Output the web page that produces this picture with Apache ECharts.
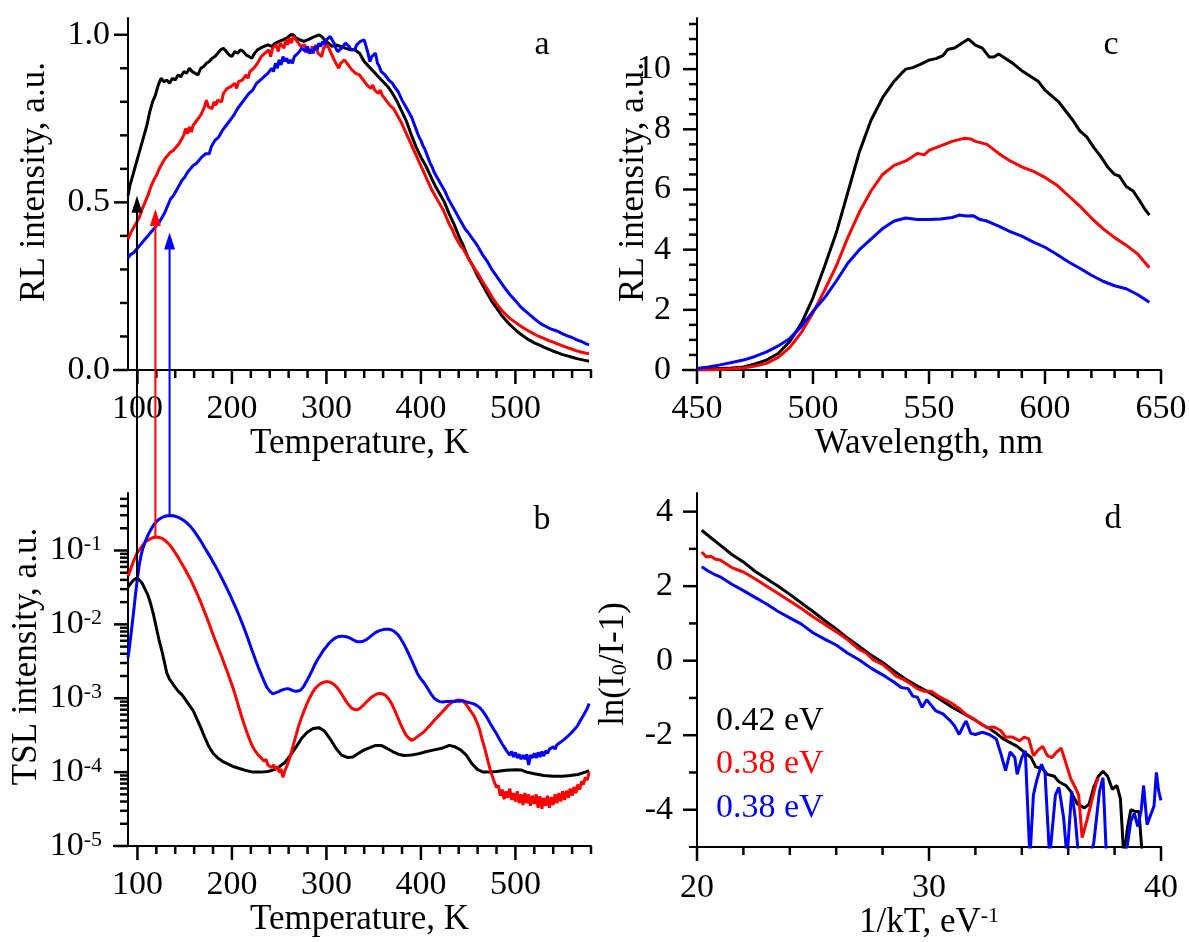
<!DOCTYPE html>
<html><head><meta charset="utf-8">
<script src="https://cdn.jsdelivr.net/npm/echarts@6/dist/echarts.min.js"></script>
<style>html,body{margin:0;padding:0;background:#fff}#c{width:1189px;height:942px}</style>
</head><body><div id="c"></div>
<script>
const FONT = '"Liberation Serif", "Times New Roman", serif';

// ---------- Panel a: RL intensity vs temperature ----------
const rlBlack = [[90,0.52],[92,0.55],[95,0.58],[98,0.61],[101,0.64],[104,0.67],[107,0.70],[110,0.73],[113,0.77],[116,0.80],[119,0.82],[122,0.85],[125,0.87],[128,0.86],[131,0.865],[134,0.855],[137,0.87],[140,0.865],[143,0.88],[146,0.875],[149,0.89],[152,0.885],[155,0.90],[158,0.89],[161,0.885],[164,0.88],[167,0.90],[170,0.905],[173,0.915],[176,0.92],[179,0.93],[182,0.935],[185,0.945],[188,0.955],[191,0.96],[194,0.95],[197,0.94],[200,0.935],[203,0.95],[206,0.945],[209,0.955],[212,0.95],[215,0.94],[218,0.935],[221,0.93],[224,0.945],[227,0.955],[230,0.96],[234,0.965],[238,0.97],[242,0.965],[246,0.975],[250,0.98],[254,0.985],[258,0.99],[262,1.0],[265,1.0],[268,0.99],[272,0.985],[276,0.98],[280,0.985],[284,0.99],[288,0.995],[292,1.0],[295,0.995],[298,0.985],[302,0.975],[306,0.965],[310,0.97],[315,0.965],[320,0.96],[325,0.955],[330,0.955],[335,0.945],[340,0.92],[345,0.905],[350,0.89],[355,0.875],[360,0.86],[365,0.845],[370,0.825],[375,0.80],[380,0.77],[385,0.74],[390,0.70],[395,0.665],[400,0.635],[405,0.61],[410,0.58],[415,0.55],[420,0.525],[425,0.50],[430,0.465],[435,0.435],[440,0.40],[445,0.37],[450,0.335],[455,0.31],[460,0.28],[465,0.255],[470,0.23],[475,0.205],[480,0.185],[485,0.165],[490,0.148],[495,0.133],[500,0.12],[505,0.108],[510,0.098],[515,0.089],[520,0.081],[525,0.075],[530,0.068],[535,0.062],[540,0.056],[545,0.051],[550,0.046],[555,0.042],[560,0.038],[565,0.034],[570,0.031],[575,0.028],[578,0.026]];
const rlRed = [[90,0.39],[93,0.41],[96,0.425],[99,0.44],[102,0.455],[105,0.48],[108,0.50],[111,0.52],[114,0.545],[117,0.565],[120,0.58],[123,0.60],[126,0.615],[129,0.63],[132,0.64],[135,0.65],[138,0.655],[141,0.665],[144,0.675],[147,0.69],[149,0.70],[151,0.72],[153,0.705],[155,0.725],[157,0.71],[159,0.73],[161,0.725],[163,0.745],[165,0.74],[167,0.76],[169,0.765],[171,0.785],[173,0.805],[175,0.785],[177,0.79],[179,0.78],[181,0.80],[183,0.79],[185,0.805],[187,0.81],[189,0.80],[191,0.825],[193,0.82],[195,0.84],[197,0.835],[199,0.845],[201,0.84],[203,0.855],[205,0.84],[207,0.86],[209,0.855],[211,0.865],[213,0.865],[215,0.88],[217,0.87],[219,0.89],[221,0.885],[223,0.9],[225,0.895],[227,0.915],[229,0.915],[231,0.935],[233,0.935],[235,0.945],[237,0.94],[239,0.955],[241,0.935],[243,0.96],[245,0.955],[247,0.97],[249,0.95],[251,0.975],[253,0.97],[255,0.96],[257,0.985],[259,0.97],[261,0.99],[263,0.975],[265,0.995],[267,1.0],[269,0.98],[271,0.975],[273,0.965],[275,0.96],[277,0.97],[279,0.95],[281,0.955],[283,0.945],[285,0.965],[287,0.955],[289,0.97],[291,0.945],[293,0.95],[295,0.935],[297,0.96],[299,0.955],[301,0.97],[303,0.965],[305,0.945],[307,0.94],[309,0.92],[311,0.92],[313,0.9],[315,0.915],[317,0.91],[319,0.925],[321,0.92],[323,0.91],[325,0.91],[327,0.895],[329,0.9],[331,0.885],[333,0.89],[335,0.88],[337,0.88],[339,0.865],[341,0.865],[343,0.85],[345,0.855],[347,0.84],[349,0.85],[351,0.835],[353,0.84],[355,0.825],[357,0.835],[359,0.82],[361,0.82],[363,0.805],[365,0.805],[367,0.79],[369,0.795],[371,0.78],[373,0.78],[375,0.76],[377,0.76],[379,0.74],[381,0.74],[383,0.715],[385,0.715],[387,0.69],[389,0.69],[391,0.665],[393,0.665],[395,0.64],[397,0.64],[399,0.615],[401,0.615],[403,0.59],[405,0.585],[407,0.565],[409,0.56],[411,0.54],[413,0.535],[415,0.52],[417,0.52],[419,0.5],[421,0.5],[424,0.475],[427,0.455],[430,0.435],[433,0.42],[436,0.40],[439,0.385],[442,0.37],[445,0.36],[450,0.335],[455,0.31],[460,0.289],[465,0.265],[470,0.242],[476,0.214],[480,0.198],[485,0.18],[490,0.165],[495,0.152],[500,0.142],[505,0.132],[510,0.123],[515,0.115],[520,0.107],[525,0.10],[530,0.094],[535,0.088],[540,0.083],[545,0.077],[550,0.072],[555,0.067],[560,0.062],[565,0.057],[570,0.053],[575,0.05],[578,0.048]];
const rlBlue = [[90,0.335],[93,0.345],[96,0.35],[99,0.36],[102,0.37],[105,0.38],[108,0.39],[111,0.40],[114,0.41],[117,0.42],[120,0.43],[123,0.44],[126,0.455],[129,0.47],[132,0.49],[135,0.51],[138,0.52],[141,0.535],[144,0.55],[147,0.565],[150,0.575],[153,0.59],[156,0.60],[159,0.61],[162,0.615],[165,0.625],[168,0.635],[170,0.63],[172,0.645],[174,0.65],[176,0.645],[178,0.665],[180,0.67],[182,0.685],[184,0.68],[186,0.695],[188,0.7],[190,0.715],[192,0.71],[194,0.73],[196,0.73],[198,0.745],[200,0.745],[202,0.76],[204,0.76],[206,0.78],[208,0.775],[210,0.795],[212,0.79],[214,0.81],[216,0.805],[218,0.825],[220,0.82],[222,0.835],[224,0.835],[226,0.855],[228,0.85],[230,0.865],[232,0.86],[234,0.875],[236,0.87],[238,0.885],[240,0.88],[242,0.9],[244,0.89],[246,0.915],[248,0.9],[250,0.925],[252,0.91],[254,0.935],[256,0.92],[258,0.93],[260,0.915],[262,0.925],[264,0.915],[266,0.935],[268,0.93],[270,0.945],[272,0.94],[274,0.96],[276,0.965],[278,0.95],[280,0.965],[282,0.945],[284,0.955],[286,0.945],[288,0.965],[290,0.955],[292,0.975],[294,0.965],[296,0.98],[298,0.97],[300,0.985],[302,0.98],[304,0.995],[306,1.0],[308,0.975],[310,0.96],[312,0.95],[314,0.945],[316,0.96],[318,0.965],[320,0.975],[322,0.97],[324,0.965],[326,0.955],[328,0.96],[330,0.955],[332,0.97],[334,0.965],[336,0.98],[338,0.975],[340,0.985],[342,0.965],[344,0.945],[346,0.92],[348,0.935],[350,0.93],[352,0.945],[354,0.915],[356,0.905],[358,0.89],[360,0.885],[362,0.88],[364,0.875],[366,0.865],[368,0.86],[370,0.855],[372,0.845],[374,0.84],[376,0.83],[378,0.825],[380,0.805],[382,0.80],[384,0.785],[386,0.785],[388,0.765],[390,0.755],[392,0.74],[394,0.725],[396,0.71],[398,0.695],[400,0.685],[402,0.67],[404,0.66],[406,0.645],[408,0.63],[410,0.615],[412,0.605],[414,0.59],[417,0.575],[420,0.56],[423,0.545],[426,0.53],[429,0.51],[432,0.495],[435,0.48],[438,0.465],[441,0.45],[444,0.435],[447,0.42],[450,0.41],[455,0.39],[460,0.37],[465,0.345],[470,0.325],[475,0.30],[480,0.28],[485,0.26],[490,0.24],[495,0.222],[500,0.207],[505,0.19],[510,0.177],[515,0.165],[520,0.153],[525,0.142],[530,0.133],[535,0.126],[540,0.12],[545,0.115],[550,0.108],[555,0.102],[560,0.097],[565,0.09],[570,0.085],[575,0.078],[578,0.075]];

// ---------- Panel b: TSL intensity vs temperature (log) ----------
const tslBlack = [[90,0.032],[93,0.036],[96,0.04],[99,0.042],[102,0.04],[105,0.036],[108,0.03],[111,0.025],[114,0.019],[117,0.0135],[120,0.009],[123,0.006],[126,0.0043],[129,0.0029],[131,0.0022],[134,0.0018],[137,0.0016],[140,0.0014],[143,0.00125],[147,0.00112],[151,0.00095],[155,0.0008],[159,0.00068],[163,0.00052],[167,0.0004],[171,0.0003],[175,0.00023],[180,0.00018],[185,0.000155],[190,0.00014],[196,0.000128],[202,0.000118],[208,0.000112],[215,0.000105],[222,0.0001],[230,0.0001],[238,0.000102],[245,0.000108],[250,0.000118],[256,0.000135],[262,0.00017],[268,0.00022],[274,0.00029],[280,0.00035],[286,0.00039],[292,0.0004],[298,0.00036],[304,0.00028],[310,0.00021],[316,0.00017],[322,0.000158],[328,0.00016],[334,0.00018],[340,0.0002],[346,0.000215],[352,0.00023],[358,0.00023],[364,0.00021],[370,0.00019],[376,0.000175],[382,0.000168],[390,0.00017],[398,0.000178],[406,0.00019],[414,0.0002],[422,0.00021],[430,0.00023],[436,0.00022],[442,0.0002],[448,0.00017],[454,0.00013],[460,0.000108],[466,0.0001],[472,0.0001],[480,0.000102],[490,0.000106],[500,0.000108],[506,0.000107],[512,0.0001],[520,0.000095],[530,0.00009],[540,0.000088],[550,0.000088],[558,0.00009],[566,0.000093],[574,0.0001],[578,0.000105]];
const tslRed = [[90,0.045],[92,0.052],[94,0.062],[96,0.072],[98,0.083],[100,0.094],[102,0.1],[105,0.115],[108,0.128],[111,0.138],[114,0.145],[117,0.15],[120,0.152],[123,0.15],[126,0.146],[129,0.138],[132,0.127],[135,0.115],[138,0.102],[141,0.089],[144,0.077],[147,0.066],[150,0.057],[153,0.048],[156,0.041],[159,0.034],[162,0.028],[165,0.023],[168,0.0185],[171,0.0148],[174,0.0118],[177,0.0093],[180,0.0073],[183,0.0058],[186,0.0046],[189,0.0037],[192,0.0029],[195,0.0023],[198,0.0018],[201,0.0014],[204,0.00105],[207,0.00078],[210,0.00058],[213,0.00044],[216,0.00034],[219,0.00027],[222,0.00022],[225,0.00019],[228,0.00017],[231,0.000155],[234,0.00014],[236,0.00015],[238,0.000125],[240,0.00013],[242,0.000115],[244,0.000125],[246,0.00011],[248,0.000118],[250,0.0001],[252,0.00011],[254,0.000085],[256,0.000105],[258,0.00012],[260,0.00014],[262,0.00017],[264,0.00021],[266,0.00026],[268,0.00032],[270,0.0004],[273,0.00052],[276,0.00066],[279,0.00082],[282,0.001],[285,0.00118],[288,0.00135],[291,0.00148],[294,0.00158],[297,0.00165],[300,0.00168],[303,0.00166],[306,0.0016],[309,0.0015],[312,0.00136],[315,0.0012],[318,0.00104],[321,0.0009],[324,0.0008],[327,0.00073],[330,0.0007],[333,0.0007],[336,0.00074],[339,0.0008],[342,0.00088],[345,0.00096],[348,0.00104],[351,0.0011],[354,0.00115],[357,0.00116],[360,0.00114],[363,0.00108],[366,0.00098],[369,0.00084],[372,0.0007],[375,0.00057],[378,0.00046],[381,0.00038],[384,0.00032],[387,0.00029],[390,0.00027],[393,0.00028],[396,0.0003],[399,0.00032],[402,0.00034],[405,0.00037],[408,0.00041],[411,0.00045],[414,0.0005],[417,0.00055],[420,0.0006],[423,0.00066],[426,0.00073],[429,0.0008],[432,0.00086],[435,0.00091],[438,0.00094],[441,0.00095],[444,0.00092],[447,0.00085],[450,0.00075],[453,0.00066],[456,0.00058],[459,0.00048],[462,0.00038],[465,0.00027],[468,0.0002],[471,0.00014],[474,0.0001],[477,0.000078],[480,0.000062],[482,0.000066],[484,0.000048],[486,0.000058],[488,0.000043],[490,0.000055],[492,0.000045],[494,0.00006],[496,0.000042],[498,0.000052],[500,0.00004],[502,0.000055],[504,0.000038],[506,0.00005],[508,0.000036],[510,0.000052],[512,0.000038],[514,0.00005],[516,0.000035],[518,0.000048],[520,0.000037],[522,0.00005],[524,0.000033],[526,0.000047],[528,0.000032],[530,0.000045],[532,0.000035],[534,0.000048],[536,0.000033],[538,0.000046],[540,0.000036],[542,0.00005],[544,0.000038],[546,0.000052],[548,0.00004],[550,0.000055],[552,0.000042],[554,0.000056],[556,0.000045],[558,0.00006],[560,0.000048],[562,0.000063],[564,0.000052],[566,0.000068],[568,0.000058],[570,0.000075],[572,0.000068],[574,0.000085],[576,0.000078],[578,0.0001]];
const tslBlue = [[90,0.0035],[92,0.0055],[94,0.009],[96,0.015],[98,0.026],[100,0.042],[102,0.065],[104,0.088],[106,0.11],[108,0.13],[111,0.16],[114,0.19],[117,0.22],[120,0.245],[123,0.265],[126,0.28],[129,0.29],[132,0.296],[135,0.298],[138,0.295],[141,0.288],[144,0.278],[147,0.265],[150,0.25],[153,0.232],[156,0.212],[159,0.19],[162,0.168],[165,0.147],[168,0.128],[171,0.11],[174,0.095],[177,0.082],[180,0.07],[183,0.06],[186,0.051],[189,0.043],[192,0.036],[195,0.03],[198,0.025],[201,0.0205],[204,0.0168],[207,0.0137],[210,0.011],[213,0.0088],[216,0.0069],[219,0.0054],[222,0.0042],[225,0.0033],[228,0.0026],[231,0.0021],[234,0.0017],[237,0.0014],[240,0.00125],[243,0.00115],[246,0.00118],[249,0.00122],[252,0.00128],[255,0.00132],[258,0.00135],[261,0.00133],[264,0.00128],[267,0.00124],[270,0.00125],[273,0.0013],[276,0.00145],[279,0.0017],[282,0.002],[285,0.0024],[288,0.0029],[291,0.0034],[294,0.0039],[297,0.0045],[300,0.005],[303,0.0056],[306,0.0061],[309,0.0065],[312,0.0068],[315,0.0069],[318,0.0069],[321,0.0068],[324,0.0066],[327,0.0063],[330,0.006],[333,0.0058],[336,0.0058],[339,0.0059],[342,0.0062],[345,0.0066],[348,0.0071],[351,0.0076],[354,0.008],[357,0.0083],[360,0.0085],[363,0.0086],[366,0.0086],[369,0.0084],[372,0.008],[375,0.0074],[378,0.0066],[381,0.0057],[384,0.0048],[387,0.004],[390,0.0033],[393,0.0027],[396,0.0022],[399,0.0019],[402,0.0017],[405,0.0015],[408,0.0013],[411,0.00113],[414,0.001],[417,0.00094],[420,0.0009],[423,0.00089],[426,0.0009],[429,0.0009],[432,0.00091],[435,0.0009],[438,0.00092],[441,0.00091],[444,0.00093],[447,0.0009],[450,0.00088],[453,0.00086],[456,0.00084],[459,0.0008],[462,0.00075],[465,0.00068],[468,0.0006],[471,0.00052],[474,0.00044],[477,0.00038],[480,0.00033],[483,0.00028],[486,0.00024],[488,0.00023],[490,0.0002],[492,0.00021],[494,0.00017],[496,0.00019],[498,0.00016],[500,0.000185],[502,0.000155],[504,0.000175],[506,0.00015],[508,0.00017],[510,0.00015],[512,0.000175],[514,0.000125],[516,0.00017],[518,0.000155],[520,0.00018],[522,0.000155],[524,0.000185],[526,0.00016],[528,0.00019],[530,0.000165],[532,0.000195],[534,0.00018],[536,0.000205],[538,0.000195],[540,0.00022],[542,0.000205],[544,0.000235],[546,0.000225],[548,0.000255],[550,0.000245],[552,0.00028],[554,0.00027],[556,0.00031],[558,0.00031],[560,0.00035],[562,0.00036],[564,0.0004],[566,0.00043],[568,0.00048],[570,0.00053],[572,0.00059],[574,0.00065],[576,0.00073],[578,0.00085]];

// ---------- Panel c: RL spectra ----------
const specBlack = [[450,0.02],[455,0.03],[460,0.05],[465,0.07],[470,0.1],[475,0.2],[480,0.33],[485,0.55],[490,0.95],[495,1.55],[500,2.4],[505,3.45],[510,4.55],[515,5.9],[520,7.25],[525,8.3],[530,9.05],[535,9.6],[538,9.85],[540,10.0],[543,10.05],[546,10.15],[550,10.3],[553,10.35],[556,10.45],[558,10.65],[561,10.7],[564,10.85],[567,11.0],[570,10.8],[573,10.7],[576,10.4],[578,10.4],[580,10.5],[583,10.35],[586,10.2],[590,9.95],[594,9.75],[597,9.6],[600,9.3],[603,9.1],[606,8.9],[609,8.6],[612,8.3],[615,7.95],[618,7.75],[621,7.4],[624,7.1],[627,6.75],[630,6.5],[632,6.45],[635,6.1],[638,5.95],[641,5.6],[643,5.35],[645,5.15]];
const specRed = [[450,0.0],[455,0.0],[460,0.02],[465,0.04],[470,0.07],[475,0.13],[480,0.22],[485,0.42],[490,0.75],[495,1.25],[500,1.9],[505,2.65],[510,3.45],[515,4.4],[520,5.25],[525,5.95],[530,6.5],[535,6.8],[540,6.95],[545,7.2],[548,7.15],[550,7.3],[555,7.45],[560,7.6],[565,7.7],[568,7.68],[570,7.6],[575,7.5],[580,7.2],[585,6.95],[590,6.75],[595,6.6],[600,6.4],[605,6.15],[610,5.8],[615,5.45],[620,5.05],[625,4.7],[630,4.4],[635,4.15],[640,3.85],[645,3.4]];
const specBlue = [[450,0.05],[455,0.1],[460,0.17],[465,0.25],[470,0.33],[475,0.45],[480,0.6],[485,0.8],[490,1.05],[495,1.45],[500,1.95],[505,2.4],[510,2.95],[515,3.55],[520,4.0],[525,4.35],[530,4.7],[535,4.95],[540,5.05],[545,5.0],[550,5.0],[555,5.02],[560,5.07],[563,5.15],[566,5.12],[569,5.13],[572,5.0],[575,4.95],[580,4.78],[585,4.6],[590,4.45],[595,4.25],[600,4.08],[605,3.85],[610,3.6],[615,3.38],[620,3.15],[625,2.95],[630,2.8],[635,2.7],[640,2.5],[645,2.25]];

// ---------- Panel d: Arrhenius plots ----------
const arrBlack = [[20.2,3.5],[20.6,3.3],[21,3.1],[21.5,2.85],[22,2.65],[22.5,2.4],[23,2.2],[23.5,2.0],[24,1.78],[24.5,1.55],[25,1.32],[25.5,1.08],[26,0.85],[26.5,0.6],[27,0.38],[27.5,0.15],[28,-0.05],[28.5,-0.28],[29,-0.5],[29.5,-0.68],[30,-0.85],[30.5,-1.05],[31,-1.25],[31.5,-1.42],[32,-1.6],[32.3,-1.72],[32.6,-1.82],[32.9,-1.95],[33.2,-2.1],[33.5,-2.2],[33.8,-2.3],[34.1,-2.45],[34.4,-2.6],[34.6,-2.85],[34.9,-2.9],[35.1,-3.05],[35.4,-3.1],[35.6,-3.25],[35.9,-3.35],[36.1,-3.5],[36.4,-3.85],[36.7,-3.95],[36.9,-3.85],[37.1,-3.4],[37.3,-3.1],[37.5,-2.97],[37.7,-3.1],[37.9,-3.45],[38.1,-3.35],[38.25,-3.7],[38.4,-5.3],[38.55,-4.5],[38.7,-4.0],[38.9,-4.05],[39.05,-4.05],[39.2,-5.3]];
const arrRed = [[20.2,2.92],[20.4,2.78],[20.6,2.8],[20.8,2.72],[21,2.7],[21.5,2.5],[22,2.38],[22.5,2.2],[23,2.0],[23.5,1.8],[24,1.6],[24.5,1.4],[25,1.18],[25.5,0.98],[26,0.78],[26.5,0.56],[27,0.3],[27.3,0.2],[27.6,0.02],[28,-0.1],[28.3,-0.25],[28.6,-0.42],[28.9,-0.5],[29.2,-0.62],[29.5,-0.75],[29.8,-0.82],[30.1,-0.82],[30.4,-0.95],[30.7,-1.05],[31,-1.15],[31.3,-1.28],[31.6,-1.45],[31.9,-1.55],[32.2,-1.68],[32.5,-1.8],[32.8,-1.78],[33.1,-1.88],[33.3,-2.05],[33.6,-2.05],[33.9,-2.15],[34.1,-2.05],[34.3,-2.1],[34.5,-2.55],[34.7,-2.4],[34.9,-2.3],[35.1,-2.55],[35.3,-2.6],[35.5,-2.45],[35.7,-2.35],[35.9,-2.75],[36.1,-3.15],[36.3,-3.4],[36.45,-3.6],[36.6,-4.75],[36.8,-4.3],[37.0,-3.8],[37.2,-3.3],[37.3,-3.15]];
const arrBlue = [[20.2,2.52],[20.5,2.4],[20.8,2.3],[21,2.25],[21.5,2.05],[22,1.88],[22.5,1.7],[23,1.52],[23.5,1.32],[24,1.15],[24.5,0.98],[25,0.75],[25.5,0.58],[26,0.42],[26.5,0.2],[27,0.02],[27.5,-0.2],[28,-0.38],[28.5,-0.58],[28.8,-0.72],[29.1,-0.75],[29.3,-0.95],[29.5,-0.98],[29.7,-1.25],[29.9,-1.05],[30.1,-1.2],[30.3,-1.35],[30.6,-1.43],[30.9,-1.6],[31.1,-1.75],[31.3,-1.98],[31.5,-1.72],[31.6,-1.62],[31.8,-1.95],[32,-1.98],[32.3,-1.92],[32.6,-1.98],[32.9,-2.1],[33.1,-2.5],[33.3,-2.95],[33.5,-2.45],[33.7,-2.6],[33.8,-3.05],[34,-2.6],[34.15,-2.42],[34.35,-5.3],[34.5,-3.6],[34.65,-3.2],[34.85,-2.78],[35.0,-3.0],[35.2,-5.3],[35.45,-3.6],[35.6,-3.4],[35.8,-4.2],[35.95,-5.3],[36.15,-3.5],[36.3,-4.2],[36.45,-5.3],[36.9,-5.3],[37.1,-4.9],[37.35,-3.5],[37.5,-3.14],[37.65,-5.3],[38.4,-5.3],[38.55,-4.95],[38.7,-4.3],[38.85,-4.1],[39.0,-4.45],[39.15,-4.0],[39.25,-3.35],[39.4,-4.4],[39.55,-4.15],[39.7,-3.9],[39.8,-3.0],[39.9,-3.5],[40,-3.75]];

// ---------- arrows linking panels a and b ----------
const arrowT = [99.5, 119, 134];
const arrowTipRL = [0.52, 0.48, 0.41];
const arrowBaseTSL = [0.04, 0.15, 0.3];
const seriesColors = ['#000000', '#ff0000', '#0000ff'];

// ---------- text ----------
const energyLabels = ['0.42 eV', '0.38 eV', '0.38 eV'];
const panelLetters = ['a', 'b', 'c', 'd'];

// ---------- ticks ----------
const tempMajor = [100, 200, 300, 400, 500];
const tempMinor = [120,140,160,180,220,240,260,280,320,340,360,380,420,440,460,480,520,540,560,580];
const rlMajor = [0, 0.5, 1.0];
const rlMinor = [0.1,0.2,0.3,0.4,0.6,0.7,0.8,0.9];
const tslDecades = [-5, -4, -3, -2, -1];
const tslMin = 1e-5, tslMax = 0.6;
const wlMajor = [450, 500, 550, 600, 650];
const wlMinor = [460,470,480,490,510,520,530,540,560,570,580,590,610,620,630,640];
const specMajor = [0, 2, 4, 6, 8, 10];
const specMinor = [0.5,1,1.5,2.5,3,3.5,4.5,5,5.5,6.5,7,7.5,8.5,9,9.5,10.5,11,11.5];
const invMajor = [20, 30, 40];
const invMinor = [22,24,26,28,32,34,36,38];
const lnMajor = [-4, -2, 0, 2, 4];
const lnMinor = [-3, -1, 1, 3];

const tslMinorVals = [];
for (const d of tslDecades) for (let k = 2; k <= 9; k++) { const v = k * Math.pow(10, d); if (v < tslMax) tslMinorVals.push(v); }
const tslMajorVals = tslDecades.map(d => Math.pow(10, d));

const BLACK = '#000';
const nameStyle = {fontFamily: FONT, fontSize: 35, color: BLACK};
const supRich = {sup: {fontFamily: FONT, fontSize: 22, color: BLACK, verticalAlign: 'top', lineHeight: 22}};
const subRich = {sub: {fontFamily: FONT, fontSize: 22, color: BLACK, verticalAlign: 'bottom', lineHeight: 22}};

function mainAxis(gridIndex, min, max, labels, pos, extra) {
  const ax = {
    type: 'value', gridIndex, min, max, position: pos,
    axisLine: {show: true, onZero: false, lineStyle: {color: BLACK, width: 2}},
    axisTick: {show: false},
    axisLabel: {show: true, customValues: labels, color: BLACK, fontFamily: FONT, fontSize: 34, margin: 22},
    splitLine: {show: false}, minorTick: {show: false}
  };
  if (extra) {
    if (extra.label) Object.assign(ax.axisLabel, extra.label);
    if (extra.name) { ax.name = extra.name; ax.nameLocation = 'middle'; ax.nameGap = extra.gap; ax.nameMoveOverlap = false; ax.nameTextStyle = Object.assign({}, nameStyle, extra.nameStyle || {}); }
  }
  return ax;
}

const gridRects = [
  {left: 128, top: 18, width: 463, height: 352},
  {left: 128, top: 493, width: 463, height: 353},
  {left: 697, top: 18, width: 464, height: 352},
  {left: 697, top: 493, width: 464, height: 354}
];
const grids = gridRects.map(g => Object.assign({containLabel: false, outerBoundsMode: 'none'}, g));

const xAxes = [
  mainAxis(0, 90, 580, tempMajor, 'bottom', {name: 'Temperature, K', gap: 56}),
  mainAxis(1, 90, 580, tempMajor, 'bottom', {name: 'Temperature, K', gap: 56}),
  mainAxis(2, 450, 650, wlMajor, 'bottom', {name: 'Wavelength, nm', gap: 56}),
  mainAxis(3, 20, 40, invMajor, 'bottom', {name: '1/kT, eV{sup|-1}', gap: 58, label: {margin: 24}, nameStyle: {rich: supRich}})
];
const yAxes = [
  mainAxis(0, 0, 1.05, rlMajor, 'left', {label: {margin: 18, formatter: v => v.toFixed(1)}, name: 'RL intensity, a.u.', gap: 76, nameStyle: {padding: [0, 0, 0, 24]}}),
  {type: 'log', gridIndex: 1, min: tslMin, max: tslMax, logBase: 10, position: 'left',
   axisLine: {show: true, onZero: false, lineStyle: {color: BLACK, width: 2}}, axisTick: {show: false}, axisLabel: {show: false}, splitLine: {show: false}, minorTick: {show: false}},
  mainAxis(2, 0, 11.7, specMajor, 'left', {label: {margin: 26}, name: 'RL intensity, a.u.', gap: 46, nameStyle: {padding: [0, 0, 0, 24]}}),
  mainAxis(3, -5, 4.5, lnMajor, 'left', {label: {margin: 24}, name: 'ln(I{sub|0}/I-1)', gap: 66, nameStyle: {padding: [0, 0, 0, 12], rich: subRich}}),
  // label carrier for the log axis of panel b (exponent space)
  Object.assign(mainAxis(1, -5, Math.log10(tslMax), tslDecades, 'left', {label: {margin: 26, formatter: v => '10{sup|' + v + '}', rich: supRich}, name: 'TSL intensity, a.u.', gap: 84, nameStyle: {padding: [0, 0, 0, 26]}}), {axisLine: {show: false, onZero: false}})
];

function line(data, color, xi, yi) {
  return {type: 'line', data, xAxisIndex: xi, yAxisIndex: yi, showSymbol: false, symbol: 'none',
    lineStyle: {color, width: 3}, itemStyle: {color}, silent: true, clip: true};
}
const series = [
  line(rlBlack, seriesColors[0], 0, 0), line(rlRed, seriesColors[1], 0, 0), line(rlBlue, seriesColors[2], 0, 0),
  line(tslBlack, seriesColors[0], 1, 1), line(tslRed, seriesColors[1], 1, 1), line(tslBlue, seriesColors[2], 1, 1),
  line(specBlack, seriesColors[0], 2, 2), line(specRed, seriesColors[1], 2, 2), line(specBlue, seriesColors[2], 2, 2),
  line(arrBlack, seriesColors[0], 3, 3), line(arrRed, seriesColors[1], 3, 3), line(arrBlue, seriesColors[2], 3, 3)
];

const chart = echarts.init(document.getElementById('c'), null, {renderer: 'canvas'});
chart.setOption({
  animation: false, backgroundColor: '#fff',
  grid: grids, xAxis: xAxes, yAxis: yAxes, series
});

// ---------- decorations computed through the axes ----------
const gfx = [];
const fontStr = (s) => s + 'px "Liberation Serif", "Times New Roman", serif';
const MAJ = 14, MIN = 8, TW = 2.5;
function bar(x, y, w, h, color) {
  gfx.push({type: 'rect', zlevel: 1, z: 100, silent: true, shape: {x: x, y: y, width: w, height: h}, style: {fill: color || BLACK}});
}
// [xAxisIndex, yAxisIndex, xMid, yMid, xMajor, xMinor, yMajor, yMinor]
const tickSpecs = [
  [0, 0, 300, 0.5, tempMajor, tempMinor, rlMajor, rlMinor],
  [1, 1, 300, 0.001, tempMajor, tempMinor, tslMajorVals, tslMinorVals],
  [2, 2, 550, 5, wlMajor, wlMinor, specMajor, specMinor],
  [3, 3, 30, 0, invMajor, invMinor, lnMajor, lnMinor]
];
tickSpecs.forEach((s, gi) => {
  const f = {xAxisIndex: s[0], yAxisIndex: s[1]};
  const g = gridRects[gi];
  const axisX = g.left, axisY = g.top + g.height;
  s[4].forEach(v => { const px = chart.convertToPixel(f, [v, s[3]])[0]; bar(px - TW / 2, axisY, TW, MAJ); });
  s[5].forEach(v => { const px = chart.convertToPixel(f, [v, s[3]])[0]; bar(px - TW / 2, axisY, TW, MIN); });
  s[6].forEach(v => { const py = chart.convertToPixel(f, [s[2], v])[1]; bar(axisX - MAJ, py - TW / 2, MAJ, TW); });
  s[7].forEach(v => { const py = chart.convertToPixel(f, [s[2], v])[1]; bar(axisX - MIN, py - TW / 2, MIN, TW); });
  // short stub of the x-axis line to the left of the y-axis
  const stub = gi === 3 ? 8 : 15;
  bar(axisX - stub, axisY - 1, stub, 2);
});
// panel letters
[[542, 45], [542, 520], [1111, 45], [1113, 519]].forEach((p, i) => {
  gfx.push({type: 'text', x: p[0], y: p[1], z: 100, style: {text: panelLetters[i], font: fontStr(34), fill: BLACK, align: 'center', verticalAlign: 'middle'}});
});
// energy labels in panel d
[[716, 721], [716, 764], [716, 808]].forEach((p, i) => {
  gfx.push({type: 'text', x: p[0], y: p[1], z: 100, style: {text: energyLabels[i], font: fontStr(34), fill: seriesColors[i], align: 'left', verticalAlign: 'middle'}});
});
// arrows
arrowT.forEach((t, i) => {
  const top = chart.convertToPixel({xAxisIndex: 0, yAxisIndex: 0}, [t, arrowTipRL[i]]);
  const bot = chart.convertToPixel({xAxisIndex: 1, yAxisIndex: 1}, [t, arrowBaseTSL[i]]);
  const x = top[0], hw = 5.5, hh = 17;
  bar(x - 1, top[1] + hh - 2, 2, bot[1] - (top[1] + hh - 2), seriesColors[i]);
  gfx.push({type: 'polygon', zlevel: 1, z: 100, silent: true, shape: {points: [[x, top[1]], [x - hw, top[1] + hh], [x + hw, top[1] + hh]]}, style: {fill: seriesColors[i]}});
});
chart.setOption({graphic: {elements: gfx}});
</script>
</body></html>
